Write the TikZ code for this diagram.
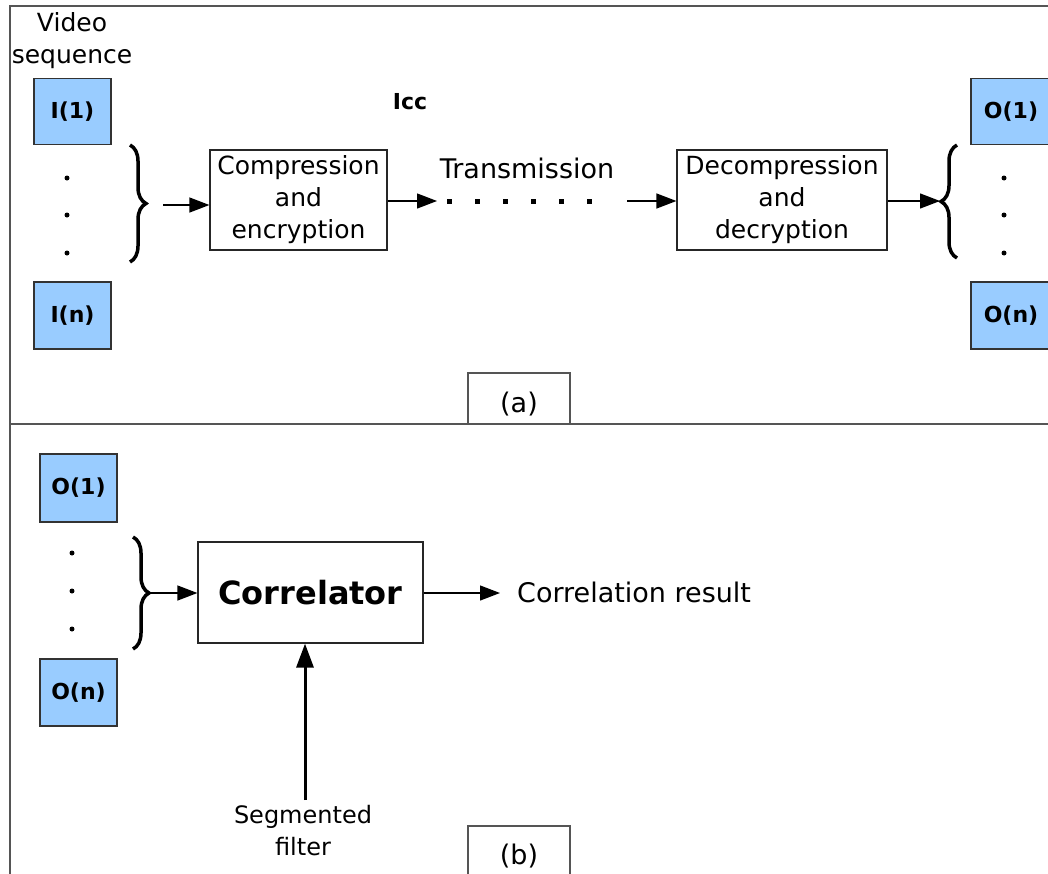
\documentclass[tikz,border=0pt]{standalone}
\usepackage{fontspec}
\setmainfont{DejaVu Sans}
\usetikzlibrary{arrows.meta,decorations.pathreplacing}
\definecolor{fillblue}{RGB}{153,204,255}
\definecolor{framegray}{RGB}{85,85,85}
\begin{document}
\begin{tikzpicture}[x=1pt,y=-1pt,
  blk/.style={draw=black!80, line width=1.3pt, fill=fillblue, minimum width=77pt, minimum height=66pt, inner sep=0pt, font=\bfseries\fontsize{22}{26}\selectfont},
  proc/.style={draw=black!85, line width=1.2pt, align=center, inner sep=0pt, font=\fontsize{25}{32}\selectfont},
  lbl/.style={inner sep=0pt, align=center, font=\fontsize{25}{32}\selectfont},
  arr/.style={-{Triangle[length=20pt,width=15pt]}, line width=1.3pt},
  bigarr/.style={-{Triangle[length=24pt,width=17pt]}, line width=3pt},
  brc/.style={decorate, decoration={brace, amplitude=16pt}, line width=3.5pt},
  dotn/.style={circle, fill, inner sep=0pt, minimum size=5pt},
  framel/.style={draw=framegray, line width=2pt}
]
\useasboundingbox (0,0) rectangle (1048,873);
% frame
\draw[framel] (1050,6) -- (10,6) -- (10,875);
\draw[framel] (10,424) -- (1050,424);
% (a) and (b) tabs
\draw[framel, line width=1.5pt] (468,424) -- (468,373) -- (570,373) -- (570,424);
\node[lbl, font=\fontsize{27}{32}\selectfont] (labela) at (519,404) {(a)};
\draw[framel, line width=1.5pt] (468,875) -- (468,826) -- (570,826) -- (570,875);
\node[lbl, font=\fontsize{27}{32}\selectfont] (labelb) at (519,856) {(b)};

% ===== part (a) =====
\node[lbl] (video) at (72,41) {Video\\sequence};
\node[blk] (i1) at (72.5,111.5) {I(1)};
\node[blk, minimum height=67pt] (in) at (72.5,315.5) {I(n)};
\node[dotn] (di1) at (67,178) {};
\node[dotn] (di2) at (67,215) {};
\node[dotn] (di3) at (67,253) {};
\draw[brc] (130,145) -- (130,262);
\coordinate (bl) at (163,205);
\node[proc, minimum width=177pt, minimum height=100pt] (comp) at (298.5,200) {Compression\\and\\encryption};
\draw[arr] (bl) -- (comp.west |- bl);
\node[lbl, font=\bfseries\fontsize{22}{26}\selectfont] (icc) at (410,102) {Icc};
\node[lbl, font=\fontsize{27}{32}\selectfont] (trans) at (527,168) {Transmission};
\node[proc, minimum width=210pt, minimum height=100pt] (decomp) at (782,200) {Decompression\\and\\decryption};
\coordinate (t1) at (437,201);
\coordinate (t2) at (447,201);
\coordinate (t3) at (600,201);
\coordinate (t4) at (627,201);
\draw[arr] (comp.east |- t1) -- (t1);
\draw[line width=5pt, dash pattern=on 5pt off 23pt] (t2) -- (t3);
\draw[arr] (t4) -- (decomp.west |- t4);
\coordinate (br) at (940,201);
\draw[arr] (decomp.east |- br) -- (br);
\draw[brc] (957,258) -- (957,145);
\node[blk, minimum width=80pt] (o1) at (1011,111.5) {O(1)};
\node[blk, minimum width=80pt, minimum height=67pt] (on) at (1011,315.5) {O(n)};
\node[dotn] (do1) at (1004,178) {};
\node[dotn] (do2) at (1004,215) {};
\node[dotn] (do3) at (1004,253) {};

% ===== part (b) =====
\node[blk, minimum height=68pt] (bo1) at (78.5,488) {O(1)};
\node[blk, minimum height=67pt] (bon) at (78.5,692.5) {O(n)};
\node[dotn] (db1) at (72,553) {};
\node[dotn] (db2) at (72,591) {};
\node[dotn] (db3) at (72,629) {};
\draw[brc] (133,537) -- (133,649);
\coordinate (bb) at (150,593);
\node[proc, minimum width=225pt, minimum height=101pt, font=\bfseries\fontsize{32}{38}\selectfont] (corr) at (310.5,592.5) {Correlator};
\draw[arr] (bb) -- (corr.west |- bb);
\node[lbl, anchor=west, font=\fontsize{27}{32}\selectfont] (result) at (517,592) {Correlation result};
\coordinate (ce) at (500,593);
\draw[arr] (corr.east |- ce) -- (ce);
\node[lbl, font=\fontsize{24}{32}\selectfont] (seg) at (303,831) {Segmented\\filter};
\coordinate (sf) at (305,800);
\draw[bigarr] (sf) -- (corr.south -| sf);
\end{tikzpicture}
\end{document}
